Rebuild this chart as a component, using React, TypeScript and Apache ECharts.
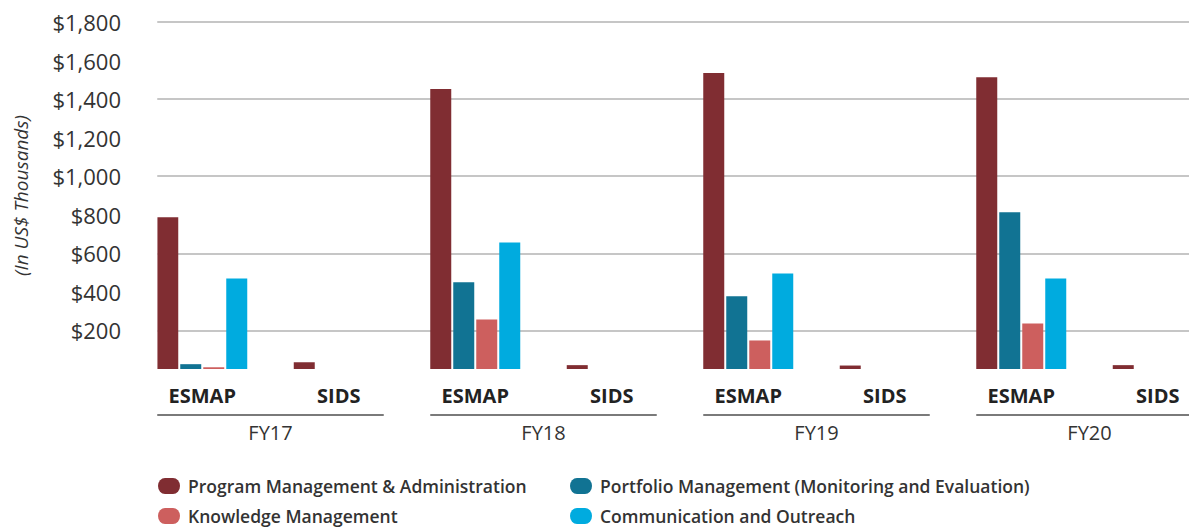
import React, { useEffect, useRef } from "react";
import * as echarts from "echarts";

const categories = ["ESMAP", "SIDS", "ESMAP", "SIDS", "ESMAP", "SIDS", "ESMAP", "SIDS"];
const years = ["FY17", "FY18", "FY19", "FY20"];
const programMgmt = [787, 35, 1452, 20, 1535, 18, 1514, 20];
const portfolioMgmt = [25, 0, 450, 0, 377, 0, 813, 0];
const knowledgeMgmt = [9, 0, 257, 0, 148, 0, 236, 0];
const communication = [470, 0, 656, 0, 496, 0, 470, 0];
const seriesNames = [
  "Program Management & Administration",
  "Portfolio Management (Monitoring and Evaluation)",
  "Knowledge Management",
  "Communication and Outreach",
];
const colors = ["#802d32", "#117393", "#cd5f5e", "#00abdf"];

const FONT = "'Open Sans', 'Noto Sans', sans-serif";
const BAR_W = 21;
const BAR_GAP = 2;

export default function App() {
  const ref = useRef<HTMLDivElement>(null);
  useEffect(() => {
    if (!ref.current) return;
    const chart = echarts.init(ref.current, null, { renderer: "svg" });
    const values = [programMgmt, portfolioMgmt, knowledgeMgmt, communication];
    const icon =
      "path://M7,0 H15 A7,8 0 0 1 22,8 A7,8 0 0 1 15,16 H7 A7,8 0 0 1 0,8 A7,8 0 0 1 7,0 Z";
    const legendBase = {
      orient: "vertical",
      top: 477,
      padding: 0,
      itemWidth: 22,
      itemHeight: 16,
      itemGap: 12,
      icon,
      textStyle: {
        fontSize: 17.5,
        lineHeight: 18,
        fontWeight: 600,
        color: "#333",
        fontFamily: FONT,
        padding: [0, 0, 0, 3],
      },
    };
    chart.setOption({
      animation: false,
      backgroundColor: "#ffffff",
      textStyle: { fontFamily: FONT },
      grid: { left: 134, top: 22, width: 1092, height: 347 },
      xAxis: [
        {
          type: "category",
          data: categories,
          position: "bottom",
          axisLine: { show: false },
          axisTick: { show: false },
          axisLabel: {
            margin: 16,
            fontSize: 20,
            fontWeight: "bold",
            color: "#222",
            fontFamily: FONT,
          },
        },
        {
          type: "category",
          data: years,
          position: "bottom",
          axisLine: { show: false },
          axisTick: { show: false },
          axisLabel: {
            margin: 53,
            fontSize: 20,
            color: "#333",
            fontFamily: FONT,
          },
        },
      ],
      yAxis: {
        type: "value",
        min: 0,
        max: 1800,
        interval: 200,
        name: "(In US$ Thousands)",
        nameLocation: "middle",
        nameRotate: 90,
        nameGap: 104,
        nameTextStyle: {
          fontSize: 19,
          fontStyle: "italic",
          color: "#333",
          fontFamily: FONT,
        },
        axisLine: { show: false },
        axisTick: { show: false },
        axisLabel: {
          margin: 13,
          fontSize: 22,
          color: "#333",
          fontFamily: FONT,
          formatter: (v: number) => (v === 0 ? "" : "$" + v.toLocaleString("en-US")),
        },
        splitLine: {
          show: true,
          lineStyle: { color: ["rgba(0,0,0,0)", "#b3b3b3"], width: 1.6 },
        },
      },
      legend: [
        { ...legendBase, data: [seriesNames[0], seriesNames[2]], left: 158 },
        { ...legendBase, data: [seriesNames[1], seriesNames[3]], left: 570 },
      ],
      series: seriesNames.map((name, i) => ({
        name,
        type: "bar",
        xAxisIndex: 0,
        yAxisIndex: 0,
        data: values[i],
        barWidth: BAR_W,
        barGap: (BAR_GAP / BAR_W) * 100 + "%",
        itemStyle: { color: colors[i] },
      })),
    });

    const groupW = BAR_W * 4 + BAR_GAP * 3;
    const x0 = chart.convertToPixel({ xAxisIndex: 0 }, 0) as number;
    const x1 = chart.convertToPixel({ xAxisIndex: 0 }, 1) as number;
    const band = x1 - x0;
    const yZero = chart.convertToPixel({ yAxisIndex: 0 }, 0) as number;
    const yTop = chart.convertToPixel({ yAxisIndex: 0 }, 1800) as number;
    const graphics: any[] = [
      {
        type: "rect",
        z: 5,
        silent: true,
        shape: {
          x: x0 - band / 2,
          y: yTop - 5,
          width: band / 2 - groupW / 2,
          height: yZero - yTop + 10,
        },
        style: { fill: "#ffffff" },
      },
    ];
    years.forEach((_, k) => {
      const a = chart.convertToPixel({ xAxisIndex: 0 }, 2 * k) as number;
      const b = chart.convertToPixel({ xAxisIndex: 0 }, 2 * k + 1) as number;
      graphics.push({
        type: "line",
        z: 5,
        silent: true,
        shape: { x1: a - groupW / 2, y1: yZero + 46, x2: b + groupW / 2, y2: yZero + 46 },
        style: { stroke: "#7a7a7a", lineWidth: 2 },
      });
    });
    chart.setOption({ graphic: graphics });

    return () => chart.dispose();
  }, []);
  return (
    <div
      ref={ref}
      style={{ position: "fixed", left: 0, top: 0, width: 1230, height: 527 }}
    />
  );
}
